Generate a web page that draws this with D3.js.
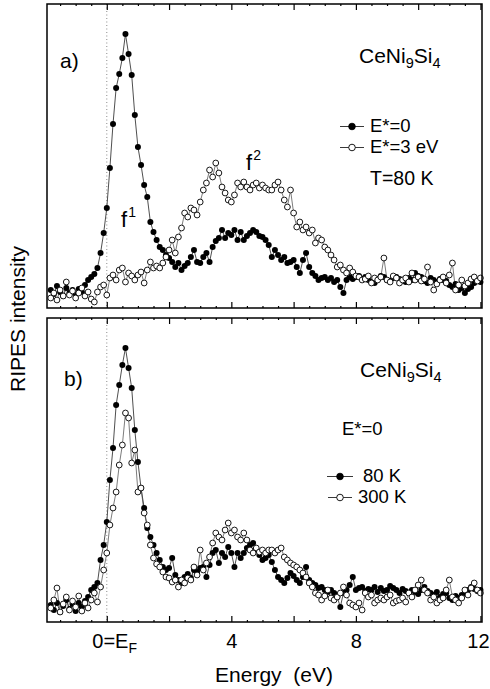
<!DOCTYPE html>
<html><head><meta charset="utf-8">
<script src="https://cdn.jsdelivr.net/npm/d3@7"></script>
<style>body{margin:0;background:#fff}svg{display:block}text{font-family:"Liberation Sans",Arial,sans-serif;fill:#000}</style>
</head><body>
<svg id="c" width="490" height="689"></svg>
<script>
// ---- data (intensity in arbitrary units) ----
const energyStart = -1.8, energyStep = 0.1, nPoints = 139;
const energy = d3.range(nPoints).map(i => +(energyStart + i * energyStep).toFixed(2));

// panel a) E*=0 (filled) and E*=3 eV (open), T=80 K
const aFilled = [18,14,22,16,12,20,15,18,13,19,
  16,23,28,31,34,40,55,75,100,140,
  184,220,234,250,274,254,233,193,161,143,
  123,111,86,76,68,61,58,53,50,46,
  41,45,38,42,45,51,58,46,45,51,
  55,46,61,67,70,78,70,75,73,78,
  68,76,68,72,75,78,76,72,71,68,
  63,51,58,53,48,51,45,46,48,41,
  35,48,55,41,35,32,28,30,31,28,
  30,26,28,21,15,28,31,29,31,32,
  29,31,28,26,25,29,32,31,28,27,
  30,31,29,28,26,30,28,35,32,31,
  27,25,30,28,26,29,28,27,23,21,
  24,18,20,15,19,21,25,28,26];
const aOpen = [10,15,8,18,12,26,13,17,10,15,
  20,12,16,9,6,16,21,23,13,30,
  33,28,38,40,26,35,32,28,33,36,
  25,38,46,40,42,40,45,51,58,68,
  55,71,80,95,91,100,98,93,106,118,
  125,138,131,145,135,121,115,108,106,113,
  125,121,126,121,118,123,125,120,123,120,
  118,118,123,126,118,108,101,118,95,81,
  86,78,81,75,78,65,70,68,61,58,
  53,48,41,43,38,35,40,36,32,31,
  28,29,32,25,30,28,31,50,28,26,
  32,30,25,28,30,26,35,28,31,27,
  29,41,26,18,24,28,31,25,33,45,
  18,23,28,22,25,29,31,27,30];

// panel b) E*=0, 80 K (filled) and 300 K (open)
const bFilled = [17,12,19,10,16,22,13,18,11,19,
  15,21,25,32,35,39,62,77,100,142,
  174,217,237,257,274,254,234,192,160,134,
  114,94,85,77,69,62,55,52,54,64,
  47,42,39,45,48,44,52,50,54,55,
  45,57,69,72,59,69,65,75,69,55,
  69,64,69,74,77,79,72,67,62,64,
  67,60,52,45,42,39,44,49,46,42,
  39,45,55,42,39,37,34,35,32,30,
  32,29,25,15,29,32,37,45,32,34,
  35,31,33,32,35,30,34,31,32,36,
  34,32,29,33,31,29,32,30,28,32,
  35,31,29,27,30,25,28,29,24,22,
  26,24,27,29,32,35,33,31,32];
const bOpen = [14,22,34,10,18,25,12,21,15,26,
  11,19,14,22,29,20,35,52,69,97,
  114,130,157,177,209,204,159,172,130,134,
  109,97,77,64,58,55,50,45,44,40,
  42,35,42,39,44,42,55,47,72,52,
  59,65,79,89,85,82,92,99,89,92,
  85,82,89,82,72,69,74,70,72,69,
  72,72,69,72,74,65,62,59,57,55,
  52,49,45,39,35,29,27,22,26,32,
  24,22,25,29,35,27,19,17,15,19,
  12,29,25,27,19,22,24,22,25,27,
  19,21,22,24,20,29,25,32,37,42,
  32,29,22,25,19,22,24,32,42,25,
  22,19,24,32,27,34,39,32,29];

const xDomain = [-1.92, 12.05];
const yDomain = [0, 304];
const majorTicks = [0, 2, 4, 6, 8, 10, 12];
const minorTicks = d3.range(-1.5, 12.01, 0.5).filter(v => Math.abs(v % 2) > 1e-6);
const tickLabels = [0, 4, 8, 12];

// ---- layout ----
const svg = d3.select("#c");
const L = 47, R = 482;
const panels = [
  {top: 4, bottom: 308, filled: aFilled, open: aOpen},
  {top: 318, bottom: 622, filled: bFilled, open: bOpen}
];
const x = d3.scaleLinear().domain(xDomain).range([L, R]);

panels.forEach(p => {
  const y = d3.scaleLinear().domain(yDomain).range([p.bottom, p.top]);
  const g = svg.append("g");
  g.append("line").attr("x1", x(0)).attr("x2", x(0)).attr("y1", p.top).attr("y2", p.bottom)
    .attr("stroke", "#8a8a8a").attr("stroke-width", 1).attr("stroke-dasharray", "1,2.5");
  const line = d3.line().x((d, i) => x(energy[i])).y(d => y(d));
  g.append("path").datum(p.filled).attr("d", line).attr("fill", "none").attr("stroke", "#222").attr("stroke-width", 0.8);
  g.append("path").datum(p.open).attr("d", line).attr("fill", "none").attr("stroke", "#444").attr("stroke-width", 0.7);
  g.selectAll(".f").data(p.filled).join("circle")
    .attr("cx", (d, i) => x(energy[i])).attr("cy", d => y(d)).attr("r", 3).attr("fill", "#000");
  g.selectAll(".o").data(p.open).join("circle")
    .attr("cx", (d, i) => x(energy[i])).attr("cy", d => y(d)).attr("r", 2.9)
    .attr("fill", "#fff").attr("stroke", "#000").attr("stroke-width", 0.9);
  const addAxis = (axisFn, yPos, vals, size) => {
    const ax = g.append("g").attr("transform", `translate(0,${yPos})`)
      .call(axisFn(x).tickValues(vals).tickSize(size).tickFormat(""));
    ax.select(".domain").remove();
    ax.selectAll("line").attr("stroke", "#000").attr("stroke-width", 1.2);
  };
  addAxis(d3.axisBottom, p.bottom, majorTicks, -6);
  addAxis(d3.axisTop, p.top, majorTicks, -6);
  addAxis(d3.axisBottom, p.bottom, minorTicks, -2);
  addAxis(d3.axisTop, p.top, minorTicks, -2);
  g.append("rect").attr("x", L).attr("y", p.top).attr("width", R - L).attr("height", p.bottom - p.top)
    .attr("fill", "none").attr("stroke", "#000").attr("stroke-width", 1.5);
});

// x tick labels
const lab = svg.append("g").attr("transform", "translate(0,648)")
  .call(d3.axisBottom(x).tickValues(tickLabels).tickSize(0).tickFormat(d => d === 0 ? "0=E" : d));
lab.select(".domain").remove();
lab.selectAll("text").attr("y", 0).attr("dy", 0).attr("font-size", 20)
  .style("font-family", '"Liberation Sans",Arial,sans-serif').attr("fill", "#000");
lab.selectAll("text").filter(d => d === 0).attr("text-anchor", "start").attr("x", -15)
  .append("tspan").attr("font-size", 14).attr("dy", 5).text("F");
lab.selectAll("text").filter(d => d === 12).attr("text-anchor", "end").attr("x", 489 - x(12));

svg.append("text").attr("x", 274).attr("y", 682).attr("text-anchor", "middle").attr("font-size", 21)
  .style("white-space", "pre").text("Energy  (eV)");
svg.append("text").attr("transform", "translate(25,319) rotate(-90)").attr("text-anchor", "middle")
  .attr("font-size", 21).text("RIPES intensity");

// annotations
function formula(xp, yp) {
  const t = svg.append("text").attr("x", xp).attr("y", yp).attr("font-size", 21);
  t.append("tspan").text("CeNi");
  t.append("tspan").attr("font-size", 14.5).attr("dy", 5).text("9");
  t.append("tspan").attr("dy", -5).text("Si");
  t.append("tspan").attr("font-size", 14.5).attr("dy", 5).text("4");
}
formula(359, 63);
formula(360, 377);
svg.append("text").attr("x", 60).attr("y", 68).attr("font-size", 21).text("a)");
svg.append("text").attr("x", 64).attr("y", 386).attr("font-size", 21).text("b)");
function fLabel(xp, yp, s) {
  const t = svg.append("text").attr("x", xp).attr("y", yp).attr("font-size", 22);
  t.append("tspan").text("f");
  t.append("tspan").attr("font-size", 14).attr("dy", -10).attr("dx", 1).text(s);
}
fLabel(121, 227, "1");
fLabel(246, 170, "2");

function legendItem(cx, cy, x1, x2, filled, label, tx, ty, fs) {
  svg.append("line").attr("x1", x1).attr("x2", x2).attr("y1", cy).attr("y2", cy).attr("stroke", "#222").attr("stroke-width", 0.9);
  svg.append("circle").attr("cx", cx).attr("cy", cy).attr("r", 3.3)
    .attr("fill", filled ? "#000" : "#fff").attr("stroke", "#000").attr("stroke-width", 0.9);
  svg.append("text").attr("x", tx).attr("y", ty).attr("font-size", fs).text(label);
}
legendItem(352, 126.5, 340, 364, true, "E*=0", 370, 132, 18.5);
legendItem(352, 147.5, 340, 364, false, "E*=3 eV", 370, 153, 18.5);
svg.append("text").attr("x", 370).attr("y", 185).attr("font-size", 19.5).text("T=80 K");

svg.append("text").attr("x", 342).attr("y", 435).attr("font-size", 18.5).text("E*=0");
legendItem(340, 476.5, 327, 353, true, "80 K", 363, 482, 18.5);
legendItem(340, 497.5, 328, 352, false, "300 K", 358, 503, 18.5);
</script>
</body></html>
